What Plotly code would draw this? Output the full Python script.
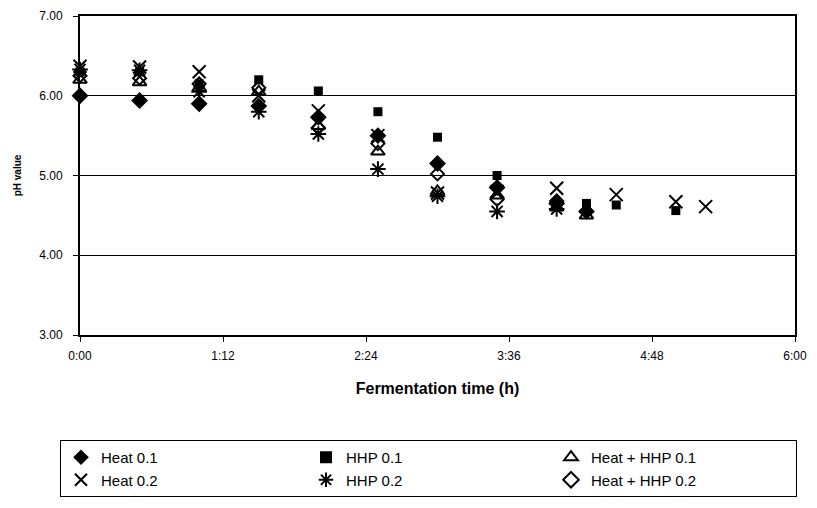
import plotly.graph_objects as go

# Fermentation time in minutes
t_heat01 = [0, 30, 60, 90, 120, 150, 180, 210, 240, 255]
heat01 = [6.00, 5.94, 5.90, 5.87, 5.73, 5.50, 5.15, 4.85, 4.65, 4.55]

t_hhp01 = [0, 30, 60, 90, 120, 150, 180, 210, 255, 270, 300]
hhp01 = [6.30, 6.30, 6.15, 6.20, 6.06, 5.80, 5.48, 5.00, 4.65, 4.63, 4.56]

t_hh01 = [0, 30, 60, 90, 120, 150, 180, 210, 240, 255]
hh01 = [6.20, 6.17, 6.10, 6.05, 5.62, 5.30, 4.80, 4.75, 4.60, 4.50]

t_heat02 = [0, 30, 60, 90, 120, 150, 180, 210, 240, 270, 300, 315]
heat02 = [6.37, 6.36, 6.30, 6.00, 5.81, 5.50, 4.78, 4.80, 4.84, 4.76, 4.67, 4.61]

t_hhp02 = [0, 30, 60, 90, 120, 150, 180, 210, 240]
hhp02 = [6.33, 6.32, 6.05, 5.80, 5.52, 5.08, 4.74, 4.55, 4.58]

t_hh02 = [0, 30, 60, 90, 120, 150, 180, 210, 240]
hh02 = [6.25, 6.22, 6.15, 6.10, 5.60, 5.40, 5.02, 4.70, 4.68]

x_tickvals = [0, 72, 144, 216, 288, 360]
x_ticktext = ["0:00", "1:12", "2:24", "3:36", "4:48", "6:00"]
y_tickvals = [3, 4, 5, 6, 7]
y_ticktext = ["3.00", "4.00", "5.00", "6.00", "7.00"]

series = [
    ("Heat 0.1", t_heat01, heat01, dict(symbol="diamond", size=13, color="black")),
    ("HHP 0.1", t_hhp01, hhp01, dict(symbol="square", size=9, color="black")),
    ("Heat + HHP 0.1", t_hh01, hh01, dict(symbol="triangle-up-open", size=12, color="black", line=dict(width=2, color="black"))),
    ("Heat 0.2", t_heat02, heat02, dict(symbol="x-thin-open", size=13, color="black", line=dict(width=2, color="black"))),
    ("HHP 0.2", t_hhp02, hhp02, dict(symbol="asterisk-open", size=13, color="black", line=dict(width=2, color="black"))),
    ("Heat + HHP 0.2", t_hh02, hh02, dict(symbol="diamond-open", size=10, color="black", line=dict(width=2, color="black"))),
]

fig = go.Figure()
for name, xs, ys, mk in series:
    fig.add_trace(go.Scatter(x=xs, y=ys, mode="markers", name=name, marker=mk, cliponaxis=False))

font_family = "Liberation Sans, Arial, sans-serif"
fig.update_layout(
    width=801, height=492,
    margin=dict(l=72, r=14, t=8, b=165, autoexpand=False),
    plot_bgcolor="white", paper_bgcolor="white",
    font=dict(family=font_family, color="black", size=12),
    showlegend=True,
    legend=dict(
        orientation="h",
        x=-20 / 715, xanchor="left", y=-105 / 319, yanchor="top",
        bordercolor="black", borderwidth=1,
        font=dict(size=15, family=font_family, color="black"),
        entrywidth=200, entrywidthmode="pixels",
        itemsizing="constant", tracegroupgap=0,
    ),
    xaxis=dict(
        range=[0, 360], tickvals=x_tickvals, ticktext=x_ticktext,
        showgrid=False, zeroline=False, automargin=False,
        showline=True, linecolor="black", linewidth=2, mirror=True,
        ticks="outside", ticklen=5, tickcolor="black", ticklabelstandoff=4,
        ticklabeloverflow="allow",
        title=dict(text="<b>Fermentation time (h)</b>", font=dict(size=16), standoff=20),
        tickfont=dict(size=12),
    ),
    yaxis=dict(
        range=[3, 7], tickvals=y_tickvals, ticktext=y_ticktext,
        showgrid=True, gridcolor="black", gridwidth=1, zeroline=False, automargin=False,
        showline=True, linecolor="black", linewidth=2, mirror=True,
        ticks="outside", ticklen=5, tickcolor="black", ticklabelstandoff=8,
        title=dict(text="<b>pH value</b>", font=dict(size=10), standoff=16),
        tickfont=dict(size=12),
    ),
)

fig.write_html("out.html")
